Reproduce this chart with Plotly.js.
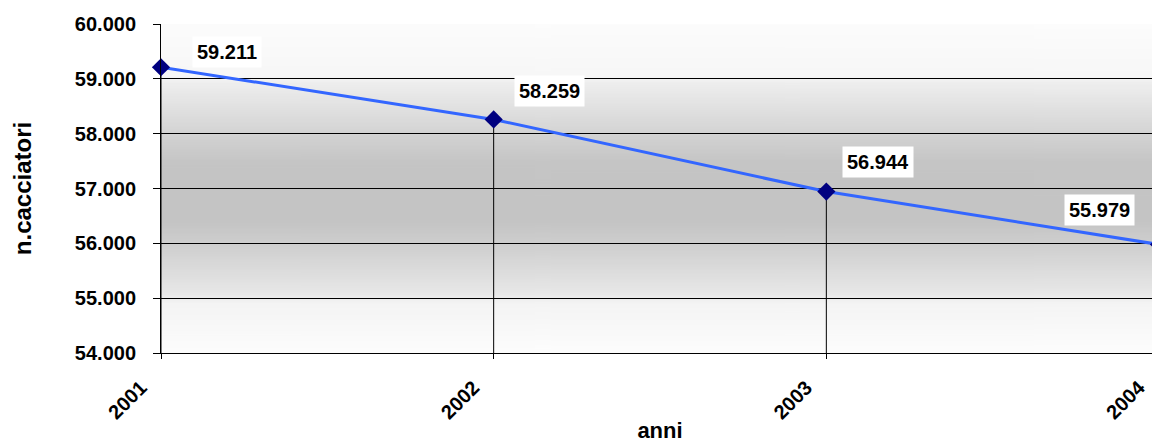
<!DOCTYPE html>
<html>
<head>
<meta charset="utf-8">
<script src="https://cdn.plot.ly/plotly-3.0.1.min.js"></script>
<style>
  html, body { margin: 0; padding: 0; overflow: hidden; background: #ffffff; }
  #chart { width: 1160px; height: 443px; }
</style>
</head>
<body>
<div id="chart"></div>
<script>
// ---- data ----
const years = [2001, 2002, 2003, 2004];
const yearLabels = ['2001', '2002', '2003', '2004'];
const hunters = [59211, 58259, 56944, 55979];
const yMin = 54000;
const yMax = 60000;

// ---- helpers ----
function fmt(v) { return String(v).replace(/\B(?=(\d{3})+(?!\d))/g, '.'); }

function gradientURL() {
  const c = document.createElement('canvas');
  c.width = 4; c.height = 400;
  const g = c.getContext('2d');
  const lg = g.createLinearGradient(0, 0, 0, 400);
  lg.addColorStop(0.00, '#fcfcfc');
  lg.addColorStop(0.16, '#f7f7f7');
  lg.addColorStop(0.18, '#eeeeee');
  lg.addColorStop(0.33, '#d4d4d4');
  lg.addColorStop(0.42, '#c5c5c5');
  lg.addColorStop(0.60, '#c4c4c4');
  lg.addColorStop(0.68, '#d0d0d0');
  lg.addColorStop(0.82, '#e8e8e8');
  lg.addColorStop(0.85, '#f4f4f4');
  lg.addColorStop(1.00, '#fdfdfd');
  g.fillStyle = lg;
  g.fillRect(0, 0, 4, 400);
  return c.toDataURL('image/png');
}

const FONT = 'Liberation Sans, Arial, Helvetica, sans-serif';

// drop lines from each point to the x axis
const dropX = [], dropY = [];
years.forEach((x, i) => { dropX.push(x, x, null); dropY.push(yMin, hunters[i], null); });

const traces = [
  {
    x: dropX, y: dropY, type: 'scatter', mode: 'lines',
    line: { color: '#000000', width: 1 },
    hoverinfo: 'skip', showlegend: false, cliponaxis: false
  },
  {
    x: years, y: hunters, type: 'scatter', mode: 'lines+markers',
    line: { color: 'rgb(51,102,255)', width: 3 },
    marker: { symbol: 'diamond', size: 14, color: '#000080' },
    showlegend: false, cliponaxis: false
  }
];

const xShift = [66, 56, 52, -60];
const yShift = [15, 28, 30, 34];

const annotations = years.map((x, i) => ({
  x: x, y: hunters[i], xref: 'x', yref: 'y',
  text: fmt(hunters[i]), showarrow: false,
  xshift: xShift[i], yshift: yShift[i],
  bgcolor: '#ffffff', borderpad: 4,
  font: { family: FONT, size: 20, color: '#000000', weight: 'bold' }
}));

const layout = {
  width: 1160, height: 443,
  margin: { l: 161, r: 1, t: 24, b: 90, pad: 0 },
  paper_bgcolor: '#ffffff',
  plot_bgcolor: 'rgba(0,0,0,0)',
  separators: ',.',
  showlegend: false,
  xaxis: {
    range: [years[0], years[years.length - 1]],
    tickvals: years, ticktext: yearLabels,
    tickangle: -45,
    ticklabeloverflow: 'allow',
    ticklabelshift: -20, ticklabelstandoff: 9,
    showgrid: false, zeroline: false,
    showline: true, linecolor: '#000000', linewidth: 1,
    ticks: 'outside', ticklen: 5, tickcolor: '#000000', tickwidth: 1,
    tickfont: { family: FONT, size: 20, color: '#000000', weight: 'bold' },
    title: { text: 'anni', standoff: 8,
      font: { family: FONT, size: 22, color: '#000000', weight: 'bold' } },
    automargin: false
  },
  yaxis: {
    range: [yMin, yMax], dtick: 1000, tickformat: ',d',
    ticklabelstandoff: 13,
    showgrid: true, gridcolor: '#000000', gridwidth: 1,
    zeroline: false,
    showline: true, linecolor: '#000000', linewidth: 1,
    ticks: 'outside', ticklen: 7, tickcolor: '#000000', tickwidth: 1,
    tickfont: { family: FONT, size: 20, color: '#000000', weight: 'bold' },
    title: { text: 'n.cacciatori', standoff: 36,
      font: { family: FONT, size: 24, color: '#000000', weight: 'bold' } },
    automargin: false
  },
  images: [{
    source: gradientURL(), xref: 'paper', yref: 'paper',
    x: 0, y: 1, sizex: 1, sizey: 1, xanchor: 'left', yanchor: 'top',
    sizing: 'stretch', layer: 'below'
  }],
  annotations: annotations
};

Plotly.newPlot('chart', traces, layout, { displayModeBar: false, staticPlot: true });
</script>
</body>
</html>
